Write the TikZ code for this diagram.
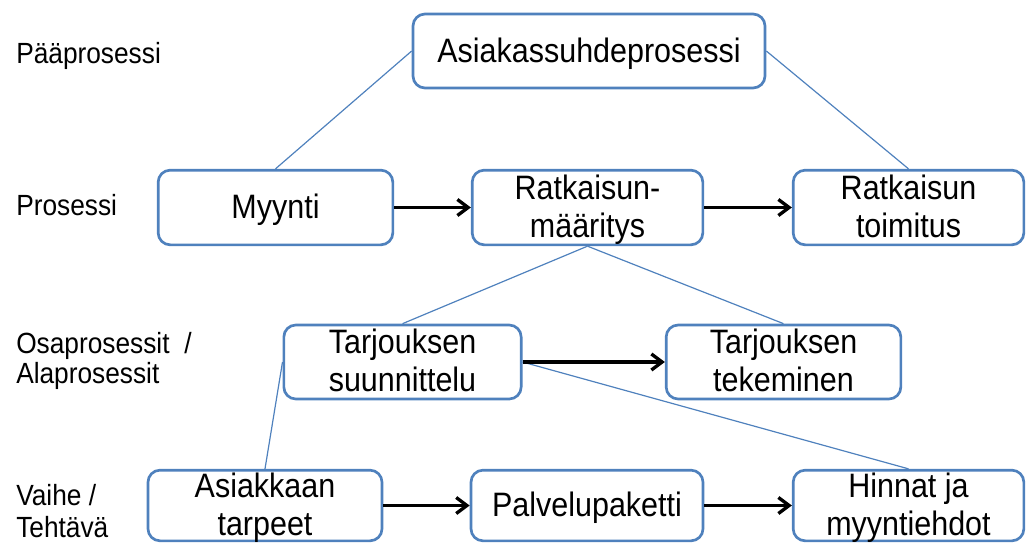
\documentclass[tikz,border=0pt]{standalone}
\usepackage{fontspec}
\setmainfont[FakeStretch=0.9]{Liberation Sans}
\usetikzlibrary{arrows.meta}
\definecolor{boxblue}{HTML}{4F81BD}
\tikzset{
  stepbox/.style={draw=boxblue, line width=2pt, rounded corners=9pt, fill=white,
    align=center, inner sep=0pt,
    font=\fontsize{25.4pt}{28.3pt}\selectfont},
  % fixed text boxes so every baseline sits at the same place in its box
  oneline/.style={text height=16.5pt, text depth=0pt},
  twoline/.style={text height=44.25pt, text depth=0pt},
  levellabel/.style={anchor=base west, inner sep=0pt,
    font=\fontsize{21.9pt}{23pt}\selectfont},
  link/.style={draw=boxblue, line width=0.9pt},
  flow/.style={draw=black, line width=2.5pt, -{Straight Barb[length=8pt,width=12pt]}}
}
\begin{document}
\begin{tikzpicture}[x=0.75pt,y=-0.75pt]
\useasboundingbox (0,0) rectangle (1027,543);

% level labels on the left
\node[levellabel] (l1)  at (16,63)  {Pääprosessi};
\node[levellabel] (l2)  at (16,215) {Prosessi};
\node[levellabel] (l3a) at (16,353) {Osaprosessit\hspace{11pt}/};
\node[levellabel] (l3b) at (16,383) {Alaprosessit};
\node[levellabel] (l4a) at (16,505) {Vaihe /};
\node[levellabel] (l4b) at (16,537) {Tehtävä};

% boxes
\node[stepbox, oneline, minimum width=264pt, minimum height=55.5pt] (top)  at (589,51)    {Asiakassuhdeprosessi};
\node[stepbox, oneline, minimum width=176pt, minimum height=56pt]   (myy)  at (275.5,207.5) {Myynti};
\node[stepbox, twoline, minimum width=173pt, minimum height=56pt]   (ratk) at (587.5,207.5) {Ratkaisun-\\määritys};
\node[stepbox, twoline, minimum width=173pt, minimum height=56pt]   (toim) at (908.5,207.5) {Ratkaisun\\toimitus};
\node[stepbox, twoline, minimum width=178pt, minimum height=55.5pt] (suun) at (402.5,362)   {Tarjouksen\\suunnittelu};
\node[stepbox, twoline, minimum width=176pt, minimum height=55.5pt] (tek)  at (783.5,362)   {Tarjouksen\\tekeminen};
\node[stepbox, twoline, minimum width=175.5pt, minimum height=53pt] (tarp) at (265,505.5)   {Asiakkaan\\tarpeet};
\node[stepbox, oneline, minimum width=174pt, minimum height=53pt]   (palv) at (587,505.5)   {Palvelupaketti};
\node[stepbox, twoline, minimum width=173pt, minimum height=53pt]   (hinn) at (908.5,505.5) {Hinnat ja\\myyntiehdot};

% hierarchy links
\draw[link] (top.west) -- (myy.north);
\draw[link] (top.east) -- (toim.north);
\draw[link] (ratk.south) -- (suun.north);
\draw[link] (ratk.south) -- (tek.north);
\draw[link] (suun.west) -- (tarp.north);
\draw[link] (suun.east) -- (hinn.north);

% process flow arrows
\draw[flow] (myy.east) -- (ratk.west);
\draw[flow] (ratk.east) -- (toim.west);
\draw[flow] (suun.east) -- (tek.west);
\draw[flow] (tarp.east) -- (palv.west);
\draw[flow] (palv.east) -- (hinn.west);
\end{tikzpicture}
\end{document}
